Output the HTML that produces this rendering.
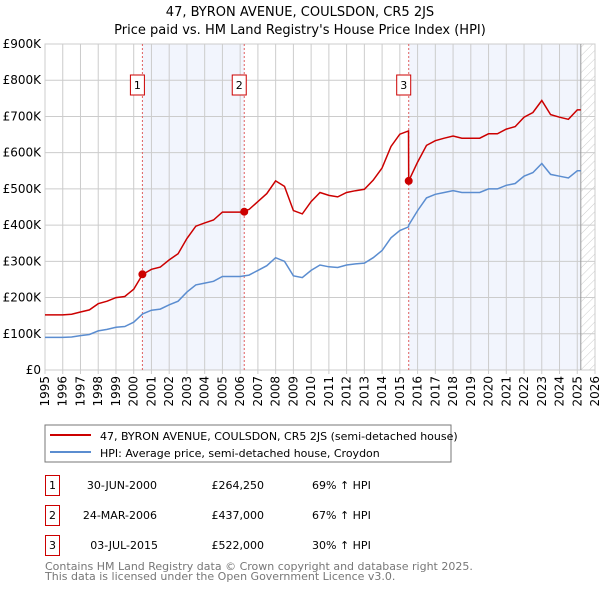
<!DOCTYPE html>
<html><head><meta charset="utf-8"><style>
body{margin:0;background:#fff;font-family:"DejaVu Sans","Liberation Sans",sans-serif;}
svg{display:block}
</style></head><body>
<svg width="600" height="590" xmlns="http://www.w3.org/2000/svg" font-family="DejaVu Sans, Liberation Sans, sans-serif">
<defs><pattern id="hatch" width="6" height="6" patternUnits="userSpaceOnUse" patternTransform="rotate(45)"><line x1="0" y1="0" x2="0" y2="6" stroke="#ccc" stroke-width="1"/></pattern></defs>
<text x="300" y="16" text-anchor="middle" font-size="13">47, BYRON AVENUE, COULSDON, CR5 2JS</text>
<text x="300" y="34" text-anchor="middle" font-size="13">Price paid vs. HM Land Registry's House Price Index (HPI)</text>
<g id="plot"></g>
<rect x="45" y="425" width="406" height="37" fill="#fff" stroke="#777"/>
<line x1="50" y1="435" x2="91" y2="435" stroke="#cc0000" stroke-width="2"/>
<text x="100" y="440" font-size="11">47, BYRON AVENUE, COULSDON, CR5 2JS (semi-detached house)</text>
<line x1="50" y1="452" x2="91" y2="452" stroke="#5b8dd0" stroke-width="2"/>
<text x="100" y="457" font-size="11">HPI: Average price, semi-detached house, Croydon</text>
<g font-size="11">
<rect x="45.5" y="475.5" width="14" height="20" fill="#fff" stroke="#cc0000"/><text x="52.5" y="489" text-anchor="middle">1</text>
<text x="157" y="489" text-anchor="end">30-JUN-2000</text><text x="264" y="489" text-anchor="end">£264,250</text><text x="312" y="489">69% ↑ HPI</text>
<rect x="45.5" y="505.5" width="14" height="20" fill="#fff" stroke="#cc0000"/><text x="52.5" y="519" text-anchor="middle">2</text>
<text x="157" y="519" text-anchor="end">24-MAR-2006</text><text x="264" y="519" text-anchor="end">£437,000</text><text x="312" y="519">67% ↑ HPI</text>
<rect x="45.5" y="535.5" width="14" height="20" fill="#fff" stroke="#cc0000"/><text x="52.5" y="549" text-anchor="middle">3</text>
<text x="158" y="549" text-anchor="end">03-JUL-2015</text><text x="264" y="549" text-anchor="end">£522,000</text><text x="312" y="549">30% ↑ HPI</text>
</g>
<text x="45" y="570" font-size="11" fill="#777">Contains HM Land Registry data © Crown copyright and database right 2025.</text>
<text x="45" y="580" font-size="11" fill="#777">This data is licensed under the Open Government Licence v3.0.</text>
</svg>
<script>
const years=[1995,1996,1996.5,1997,1997.5,1998,1998.5,1999,1999.5,2000,2000.5,2001,2001.5,2002,2002.5,2003,2003.5,2004,2004.5,2005,2005.5,2006,2006.5,2007,2007.5,2008,2008.5,2009,2009.5,2010,2010.5,2011,2011.5,2012,2012.5,2013,2013.5,2014,2014.5,2015,2015.49,2015.5,2016,2016.5,2017,2017.5,2018,2018.5,2019,2019.5,2020,2020.5,2021,2021.5,2022,2022.5,2023,2023.5,2024,2024.5,2025,2025.2];
const hpiValues=[90,90,91,95,98,108,112,118,120,132,155,165,168,180,190,215,235,240,245,258,258,258,262,275,288,310,300,260,255,275,290,285,283,290,293,295,310,330,365,385,395,400,440,475,485,490,495,490,490,490,500,500,510,515,535,545,570,540,535,530,550,550];
const priceValues=[152,152,154,160,166,183,190,200,203,223,264,278,284,304,321,363,397,406,414,436,436,436,443,465,487,522,507,440,431,465,490,482,478,490,495,499,524,558,617,651,660,522,574,620,633,640,646,640,640,640,652,652,665,672,698,711,744,705,698,692,718,718];
const saleYears=[2000.49,2006.23,2015.5];
const salePrices=[264.25,437,522];
const saleLabels=["1","2","3"];
const yTicks=[0,100,200,300,400,500,600,700,800,900];
const yTickLabels=["£0","£100K","£200K","£300K","£400K","£500K","£600K","£700K","£800K","£900K"];
const xTicks=[1995,1996,1997,1998,1999,2000,2001,2002,2003,2004,2005,2006,2007,2008,2009,2010,2011,2012,2013,2014,2015,2016,2017,2018,2019,2020,2021,2022,2023,2024,2025,2026];
const dataEnd=2025.2;

const L=45,R=595,T=44,B=370,X0=1995,X1=2026,YMAX=900;
const xs=v=>L+(v-X0)/(X1-X0)*(R-L);
const ys=v=>B-v/YMAX*(B-T);
const NS="http://www.w3.org/2000/svg";
const g=document.getElementById('plot');
function mk(tag,attrs,parent){const e=document.createElementNS(NS,tag);for(const k in attrs)e.setAttribute(k,attrs[k]);(parent||g).appendChild(e);return e;}

let s1=mk('rect',{x:xs(saleYears[0]),y:T,width:xs(saleYears[1])-xs(saleYears[0]),height:B-T,fill:'#f2f5fd'});


let s2=mk('rect',{x:xs(saleYears[2]),y:T,width:xs(dataEnd)-xs(saleYears[2]),height:B-T,fill:'#f2f5fd'});


let hz=mk('rect',{x:xs(dataEnd),y:T,width:R-xs(dataEnd),height:B-T,fill:'url(#hatch)'});



yTicks.forEach((v,i)=>{
  let l=mk('line',{x1:L,x2:R,y1:ys(v),y2:ys(v),stroke:'#ccc','stroke-width':1});
  
  
  let t=mk('text',{x:L-4,y:ys(v)+4,'text-anchor':'end','font-size':12});
  t.textContent=yTickLabels[i];
  
  
});
xTicks.forEach(v=>{
  let l=mk('line',{x1:xs(v),x2:xs(v),y1:T,y2:B+4,stroke:'#ccc','stroke-width':1});
  
  
  let t=mk('text',{x:0,y:0,'text-anchor':'end','font-size':12,transform:`translate(${xs(v)+4},${B+6}) rotate(-90)`});
  t.textContent=v;
  
  
});
let fr=mk('rect',{x:L,y:T,width:R-L,height:B-T,fill:'none',stroke:'#ccc'});


let el=mk('line',{x1:xs(dataEnd),x2:xs(dataEnd),y1:T,y2:B,stroke:'#999'});



saleYears.forEach((v,i)=>{
  let l=mk('line',{x1:xs(v),x2:xs(v),y1:T,y2:B,stroke:'#e06060','stroke-dasharray':'2,2','stroke-width':1});
  
  
  let r=mk('rect',{x:xs(v)-12,y:75,width:14,height:20,fill:'#fff',stroke:'#cc0000'});
  
  
  let t=mk('text',{x:xs(v)-5,y:89,'text-anchor':'middle','font-size':11});
  t.textContent=saleLabels[i];
  
  
});

function path(vals){return years.map((y,i)=>(i?'L':'M')+xs(y).toFixed(1)+','+ys(vals[i]).toFixed(1)).join('');}
let hp=mk('path',{d:path(hpiValues),fill:'none',stroke:'#5b8dd0','stroke-width':1.5});


let pp=mk('path',{d:path(priceValues),fill:'none',stroke:'#cc0000','stroke-width':1.5});


saleYears.forEach((v,i)=>{
  let c=mk('circle',{cx:xs(v),cy:ys(salePrices[i]),r:4,fill:'#cc0000'});
  
  
});
</script>
</body></html>
